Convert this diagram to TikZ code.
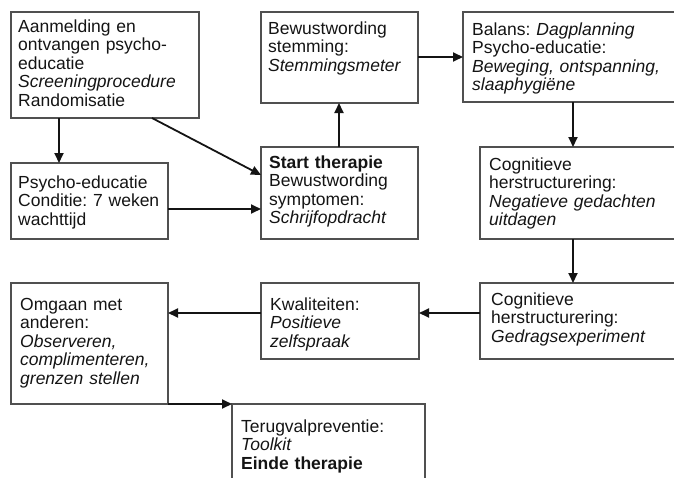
\documentclass[tikz,border=0pt]{standalone}
\usepackage{fontspec}
\setmainfont{Liberation Sans}
\usetikzlibrary{arrows.meta}
\definecolor{ink}{HTML}{141414}
\definecolor{frame}{HTML}{505050}
\tikzset{
  box/.style={draw=frame, line width=1.1pt, rectangle, inner sep=0pt, outer sep=0pt, anchor=north west, fill=none},
  txt/.style={inner sep=0pt, anchor=base west, text width=240pt, align=left, text=ink,
    font=\fontsize{17.5}{18.6}\selectfont\frenchspacing},
  arr/.style={draw=ink, line width=1.8pt, -{Triangle[length=10pt,width=9pt]}}
}
\begin{document}
\begin{tikzpicture}[x=1pt,y=-1pt]
\useasboundingbox (0,0) rectangle (674,477);
\clip (0,0) rectangle (674,477);
% boxes
\node[box, minimum width=188pt, minimum height=106pt] (b1) at (11,12) {};
\node[box, minimum width=157pt, minimum height=76pt] (psy) at (11,163) {};
\node[box, minimum width=157pt, minimum height=91pt] (bew) at (261,12) {};
\node[box, minimum width=157pt, minimum height=92pt] (start) at (261,147) {};
\node[box, minimum width=227pt, minimum height=90pt] (bal) at (463,12) {};
\node[box, minimum width=210pt, minimum height=92pt] (cog1) at (480,147) {};
\node[box, minimum width=210pt, minimum height=76pt] (cog2) at (480,283) {};
\node[box, minimum width=158pt, minimum height=76pt] (kwal) at (261,283) {};
\node[box, minimum width=157pt, minimum height=121pt] (omg) at (11,283) {};
\node[box, minimum width=193pt, minimum height=100pt] (ter) at (232,404) {};
% texts
\node[txt] (t1) at (18,32) {Aanmelding en\\ontvangen psycho-\\educatie\\\textit{Screeningprocedure}\\Randomisatie};
\node[txt] (tpsy) at (18,188) {Psycho-educatie\\Conditie: 7 weken\\wachttijd};
\node[txt] (tbew) at (268,34) {Bewustwording\\stemming:\\\textit{Stemmingsmeter}};
\node[txt] (tstart) at (269,168) {\textbf{Start therapie}\\Bewustwording\\symptomen:\\\textit{Schrijfopdracht}};
\node[txt] (tbal) at (472,35) {Balans: \textit{Dagplanning}\\Psycho-educatie:\\\textit{Beweging, ontspanning,}\\\textit{slaaphygiëne}};
\node[txt] (tcog1) at (489,170) {Cognitieve\\herstructurering:\\\textit{Negatieve gedachten}\\\textit{uitdagen}};
\node[txt] (tcog2) at (491,305) {Cognitieve\\herstructurering:\\\textit{Gedragsexperiment}};
\node[txt] (tkwal) at (270,310) {Kwaliteiten:\\\textit{Positieve}\\\textit{zelfspraak}};
\node[txt] (tomg) at (20,310) {Omgaan met\\anderen:\\\textit{Observeren,}\\\textit{complimenteren,}\\\textit{grenzen stellen}};
\node[txt] (tter) at (241,432) {Terugvalpreventie:\\\textit{Toolkit}\\\textbf{Einde therapie}};
% connectors
\draw[arr] ([xshift=48pt]b1.south west) -- ([xshift=48pt]psy.north west);
\draw[arr] ([xshift=141pt]b1.south west) -- ([yshift=-28pt]start.north west);
\draw[arr] ([yshift=-46pt]psy.north east) -- ([yshift=-62pt]start.north west);
\draw[arr] ([xshift=78pt]start.north west) -- ([xshift=78pt]bew.south west);
\draw[arr] ([yshift=-45pt]bew.north east) -- ([yshift=-45pt]bal.north west);
\draw[arr] ([xshift=110pt]bal.south west) -- ([xshift=93pt]cog1.north west);
\draw[arr] ([xshift=93pt]cog1.south west) -- ([xshift=93pt]cog2.north west);
\draw[arr] ([yshift=-30pt]cog2.north west) -- ([yshift=-30pt]kwal.north east);
\draw[arr] ([yshift=-30pt]kwal.north west) -- ([yshift=-30pt]omg.north east);
\draw[arr] (omg.south east) -- (ter.north west);
\end{tikzpicture}
\end{document}
